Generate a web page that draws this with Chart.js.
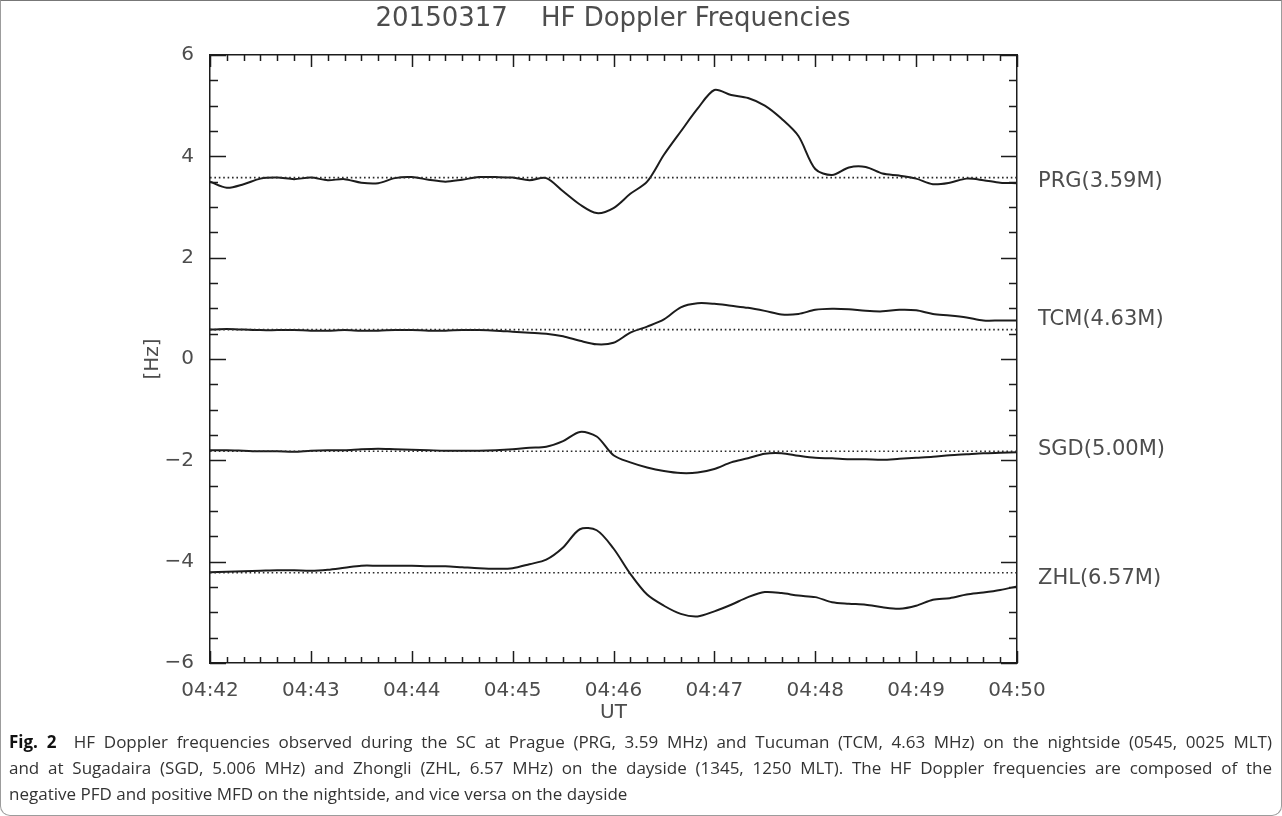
<!DOCTYPE html>
<html>
<head>
<meta charset="utf-8">
<script src="https://cdn.jsdelivr.net/npm/chart.js@4.4.1/dist/chart.umd.min.js"></script>
<style>
    html, body { margin: 0; padding: 0; background: #fff; }
    .figure-frame {
        position: absolute; left: 0; top: 0; width: 1282px; height: 816px;
        box-sizing: border-box; border: 1px solid #9c9c9c; border-top-color: #777;
        border-radius: 0 0 10px 10px;
    }
    #dopplerChart { position: absolute; left: 0; top: 0; }
    .caption {
        position: absolute; left: 9px; top: 729px; width: 1263px;
        font-family: 'Open Sans', sans-serif; font-size: 17px; line-height: 26px;
        color: #333;
    }
    .caption .line { display: block; white-space: nowrap; text-align: justify; text-align-last: justify; }
    .caption .line.last { text-align: left; text-align-last: left; }
    .caption b { color: #111; }
</style>
</head>
<body>
<div class="figure-frame"></div>
<canvas id="dopplerChart" width="1282" height="730"></canvas>
<div class="caption">
    <span class="line"><b>Fig. 2</b>&nbsp; HF Doppler frequencies observed during the SC at Prague (PRG, 3.59 MHz) and Tucuman (TCM, 4.63 MHz) on the nightside (0545, 0025 MLT)</span>
    <span class="line">and at Sugadaira (SGD, 5.006 MHz) and Zhongli (ZHL, 6.57 MHz) on the dayside (1345, 1250 MLT). The HF Doppler frequencies are composed of the</span>
    <span class="line last">negative PFD and positive MFD on the nightside, and vice versa on the dayside</span>
</div>
<script>
// seconds after 04:42:00 UT
const SECONDS = [
    0, 10, 20, 30, 40, 50, 60, 70, 80, 90, 100, 110, 120, 130, 140, 150, 160,
    170, 180, 190, 200, 210, 220, 230, 240, 250, 260, 270, 280, 290, 300, 310,
    320, 330, 340, 350, 360, 370, 380, 390, 400, 410, 420, 430, 440, 450, 460,
    470, 480
];

const PRG = [
    3.50, 3.38, 3.45, 3.56, 3.58, 3.55, 3.58, 3.53, 3.55, 3.48, 3.47, 3.57, 3.59,
    3.54, 3.50, 3.54, 3.59, 3.59, 3.58, 3.53, 3.57, 3.31, 3.05, 2.88, 2.98, 3.26,
    3.50, 4.03, 4.49, 4.94, 5.31, 5.21, 5.15, 5.00, 4.74, 4.40, 3.75, 3.63, 3.78,
    3.79, 3.66, 3.62, 3.56, 3.45, 3.48, 3.56, 3.53, 3.48, 3.47
];

const TCM = [
    0.58, 0.59, 0.58, 0.57, 0.57, 0.57, 0.56, 0.56, 0.57, 0.56, 0.56, 0.57, 0.57,
    0.56, 0.56, 0.57, 0.57, 0.56, 0.54, 0.52, 0.50, 0.45, 0.36, 0.29, 0.32, 0.52,
    0.64, 0.78, 1.02, 1.10, 1.09, 1.05, 1.01, 0.95, 0.88, 0.89, 0.97, 0.99, 0.98,
    0.95, 0.94, 0.97, 0.96, 0.89, 0.86, 0.82, 0.76, 0.76, 0.76
];

const SGD = [
    -1.80, -1.80, -1.81, -1.82, -1.82, -1.83, -1.81, -1.80, -1.80, -1.78, -1.77,
    -1.78, -1.79, -1.80, -1.81, -1.81, -1.81, -1.80, -1.78, -1.75, -1.73, -1.62,
    -1.44, -1.53, -1.90, -2.04, -2.14, -2.21, -2.25, -2.24, -2.17, -2.04, -1.96,
    -1.87, -1.86, -1.91, -1.95, -1.96, -1.98, -1.98, -1.99, -1.97, -1.95, -1.93,
    -1.90, -1.88, -1.86, -1.85, -1.84
];

const ZHL = [
    -4.21, -4.20, -4.19, -4.18, -4.17, -4.17, -4.18, -4.16, -4.12, -4.08, -4.08,
    -4.08, -4.08, -4.09, -4.09, -4.11, -4.13, -4.14, -4.13, -4.05, -3.96, -3.72,
    -3.36, -3.38, -3.74, -4.24, -4.65, -4.87, -5.03, -5.08, -4.98, -4.85, -4.70,
    -4.60, -4.62, -4.67, -4.70, -4.80, -4.83, -4.85, -4.90, -4.93, -4.87, -4.75,
    -4.72, -4.65, -4.61, -4.56, -4.49
];

// dotted reference level of each station
const BASELINES = [3.58, 0.58, -1.82, -4.22];
// station names written at the right edge, and the level (Hz) they sit at
const STATION_LABELS = ['PRG(3.59M)', 'TCM(4.63M)', 'SGD(5.00M)', 'ZHL(6.57M)'];
const LABEL_LEVELS = [3.50, 0.78, -1.78, -4.34];

const TIME_TICKS = ['04:42', '04:43', '04:44', '04:45', '04:46', '04:47', '04:48', '04:49', '04:50'];
const TIME_TICK_SECONDS = [0, 60, 120, 180, 240, 300, 360, 420, 480];
const Y_TICKS = [-6, -4, -2, 0, 2, 4, 6];

const INK = '#1c1c1c';
const LABEL_INK = '#4d4d4d';
const AXIS_FONT = { family: 'DejaVu Sans', size: 20 };

const toPoints = (values) => SECONDS.map((s, i) => ({ x: s, y: values[i] }));

const baselineSet = (level) => ({
    data: [{ x: SECONDS[0], y: level }, { x: SECONDS[SECONDS.length - 1], y: level }],
    borderColor: '#2a2a2a',
    borderWidth: 1.6,
    borderDash: [1.6, 2.8],
    pointRadius: 0,
    tension: 0
});

const seriesSet = (values) => ({
    data: toPoints(values),
    borderColor: INK,
    borderWidth: 2,
    pointRadius: 0,
    tension: 0.3
});

// IDL-style inward ticks on all four sides
const innerTicks = {
    id: 'innerTicks',
    afterDraw(chart) {
        const { ctx, chartArea: a, scales: { x, y } } = chart;
        ctx.save();
        ctx.strokeStyle = INK;
        ctx.lineWidth = 1.5;
        ctx.beginPath();
        for (let s = 0; s <= 480; s += 10) {
            const px = Math.round(x.getPixelForValue(s)) + 0.5;
            const len = s % 60 === 0 ? 12 : 6;
            ctx.moveTo(px, a.bottom); ctx.lineTo(px, a.bottom - len);
            ctx.moveTo(px, a.top); ctx.lineTo(px, a.top + len);
        }
        for (let v = -6; v <= 6; v += 0.5) {
            const py = Math.round(y.getPixelForValue(v)) + 0.5;
            const len = v % 2 === 0 ? 16 : 8;
            ctx.moveTo(a.left, py); ctx.lineTo(a.left + len, py);
            ctx.moveTo(a.right, py); ctx.lineTo(a.right - len, py);
        }
        ctx.stroke();
        ctx.restore();
    }
};

const ctx = document.getElementById('dopplerChart').getContext('2d');
new Chart(ctx, {
    type: 'line',
    data: {
        datasets: [
            ...BASELINES.map(baselineSet),
            seriesSet(PRG),
            seriesSet(TCM),
            seriesSet(SGD),
            seriesSet(ZHL)
        ]
    },
    options: {
        responsive: false,
        animation: false,
        devicePixelRatio: 1,
        layout: { padding: { left: 0, right: 56, top: 0, bottom: 0 } },
        plugins: {
            legend: { display: false },
            tooltip: { enabled: false },
            title: {
                display: true,
                text: '20150317    HF Doppler Frequencies',
                color: LABEL_INK,
                font: { family: 'DejaVu Sans', size: 26, weight: 'normal' },
                padding: { top: 4, bottom: 19.8 }
            }
        },
        scales: {
            x: {
                type: 'linear',
                position: 'bottom',
                min: 0,
                max: 480,
                afterBuildTicks: (scale) => {
                    scale.ticks = TIME_TICK_SECONDS.map((value) => ({ value }));
                },
                afterFit: (scale) => { scale.height = 730 - 663; },
                ticks: {
                    autoSkip: false,
                    maxRotation: 0,
                    padding: 8,
                    color: LABEL_INK,
                    font: AXIS_FONT,
                    callback: (value, index) => TIME_TICKS[index]
                },
                grid: { display: false },
                border: { display: true, color: INK, width: 1.5 },
                title: {
                    display: true,
                    text: 'UT',
                    color: LABEL_INK,
                    font: AXIS_FONT,
                    padding: { top: 0, bottom: 5 }
                }
            },
            xTop: {
                type: 'linear',
                position: 'top',
                min: 0,
                max: 480,
                ticks: { display: false },
                grid: { display: false },
                border: { display: true, color: INK, width: 1.5 },
                afterFit: (scale) => { scale.height = 0; }
            },
            y: {
                type: 'linear',
                position: 'left',
                min: -6,
                max: 6,
                afterBuildTicks: (scale) => {
                    scale.ticks = Y_TICKS.map((value) => ({ value }));
                },
                afterFit: (scale) => { scale.width = 210; },
                ticks: {
                    autoSkip: false,
                    padding: 8,
                    color: LABEL_INK,
                    font: AXIS_FONT,
                    callback: (value) => (value < 0 ? '\u2212' + Math.abs(value) : String(value))
                },
                grid: { display: false },
                border: { display: true, color: INK, width: 1.5 },
                title: {
                    display: true,
                    text: '[Hz]',
                    color: LABEL_INK,
                    font: AXIS_FONT,
                    padding: { top: 141, bottom: 0 }
                }
            },
            stations: {
                type: 'linear',
                position: 'right',
                min: -6,
                max: 6,
                afterBuildTicks: (scale) => {
                    scale.ticks = LABEL_LEVELS.map((value) => ({ value }));
                },
                afterFit: (scale) => { scale.width = 1282 - 56 - 1017; },
                ticks: {
                    autoSkip: false,
                    padding: 13,
                    color: LABEL_INK,
                    font: { family: 'DejaVu Sans', size: 21 },
                    callback: (value, index) => STATION_LABELS[index]
                },
                grid: { display: false },
                border: { display: true, color: INK, width: 1.5 }
            }
        }
    },
    plugins: [innerTicks]
});
</script>
</body>
</html>
